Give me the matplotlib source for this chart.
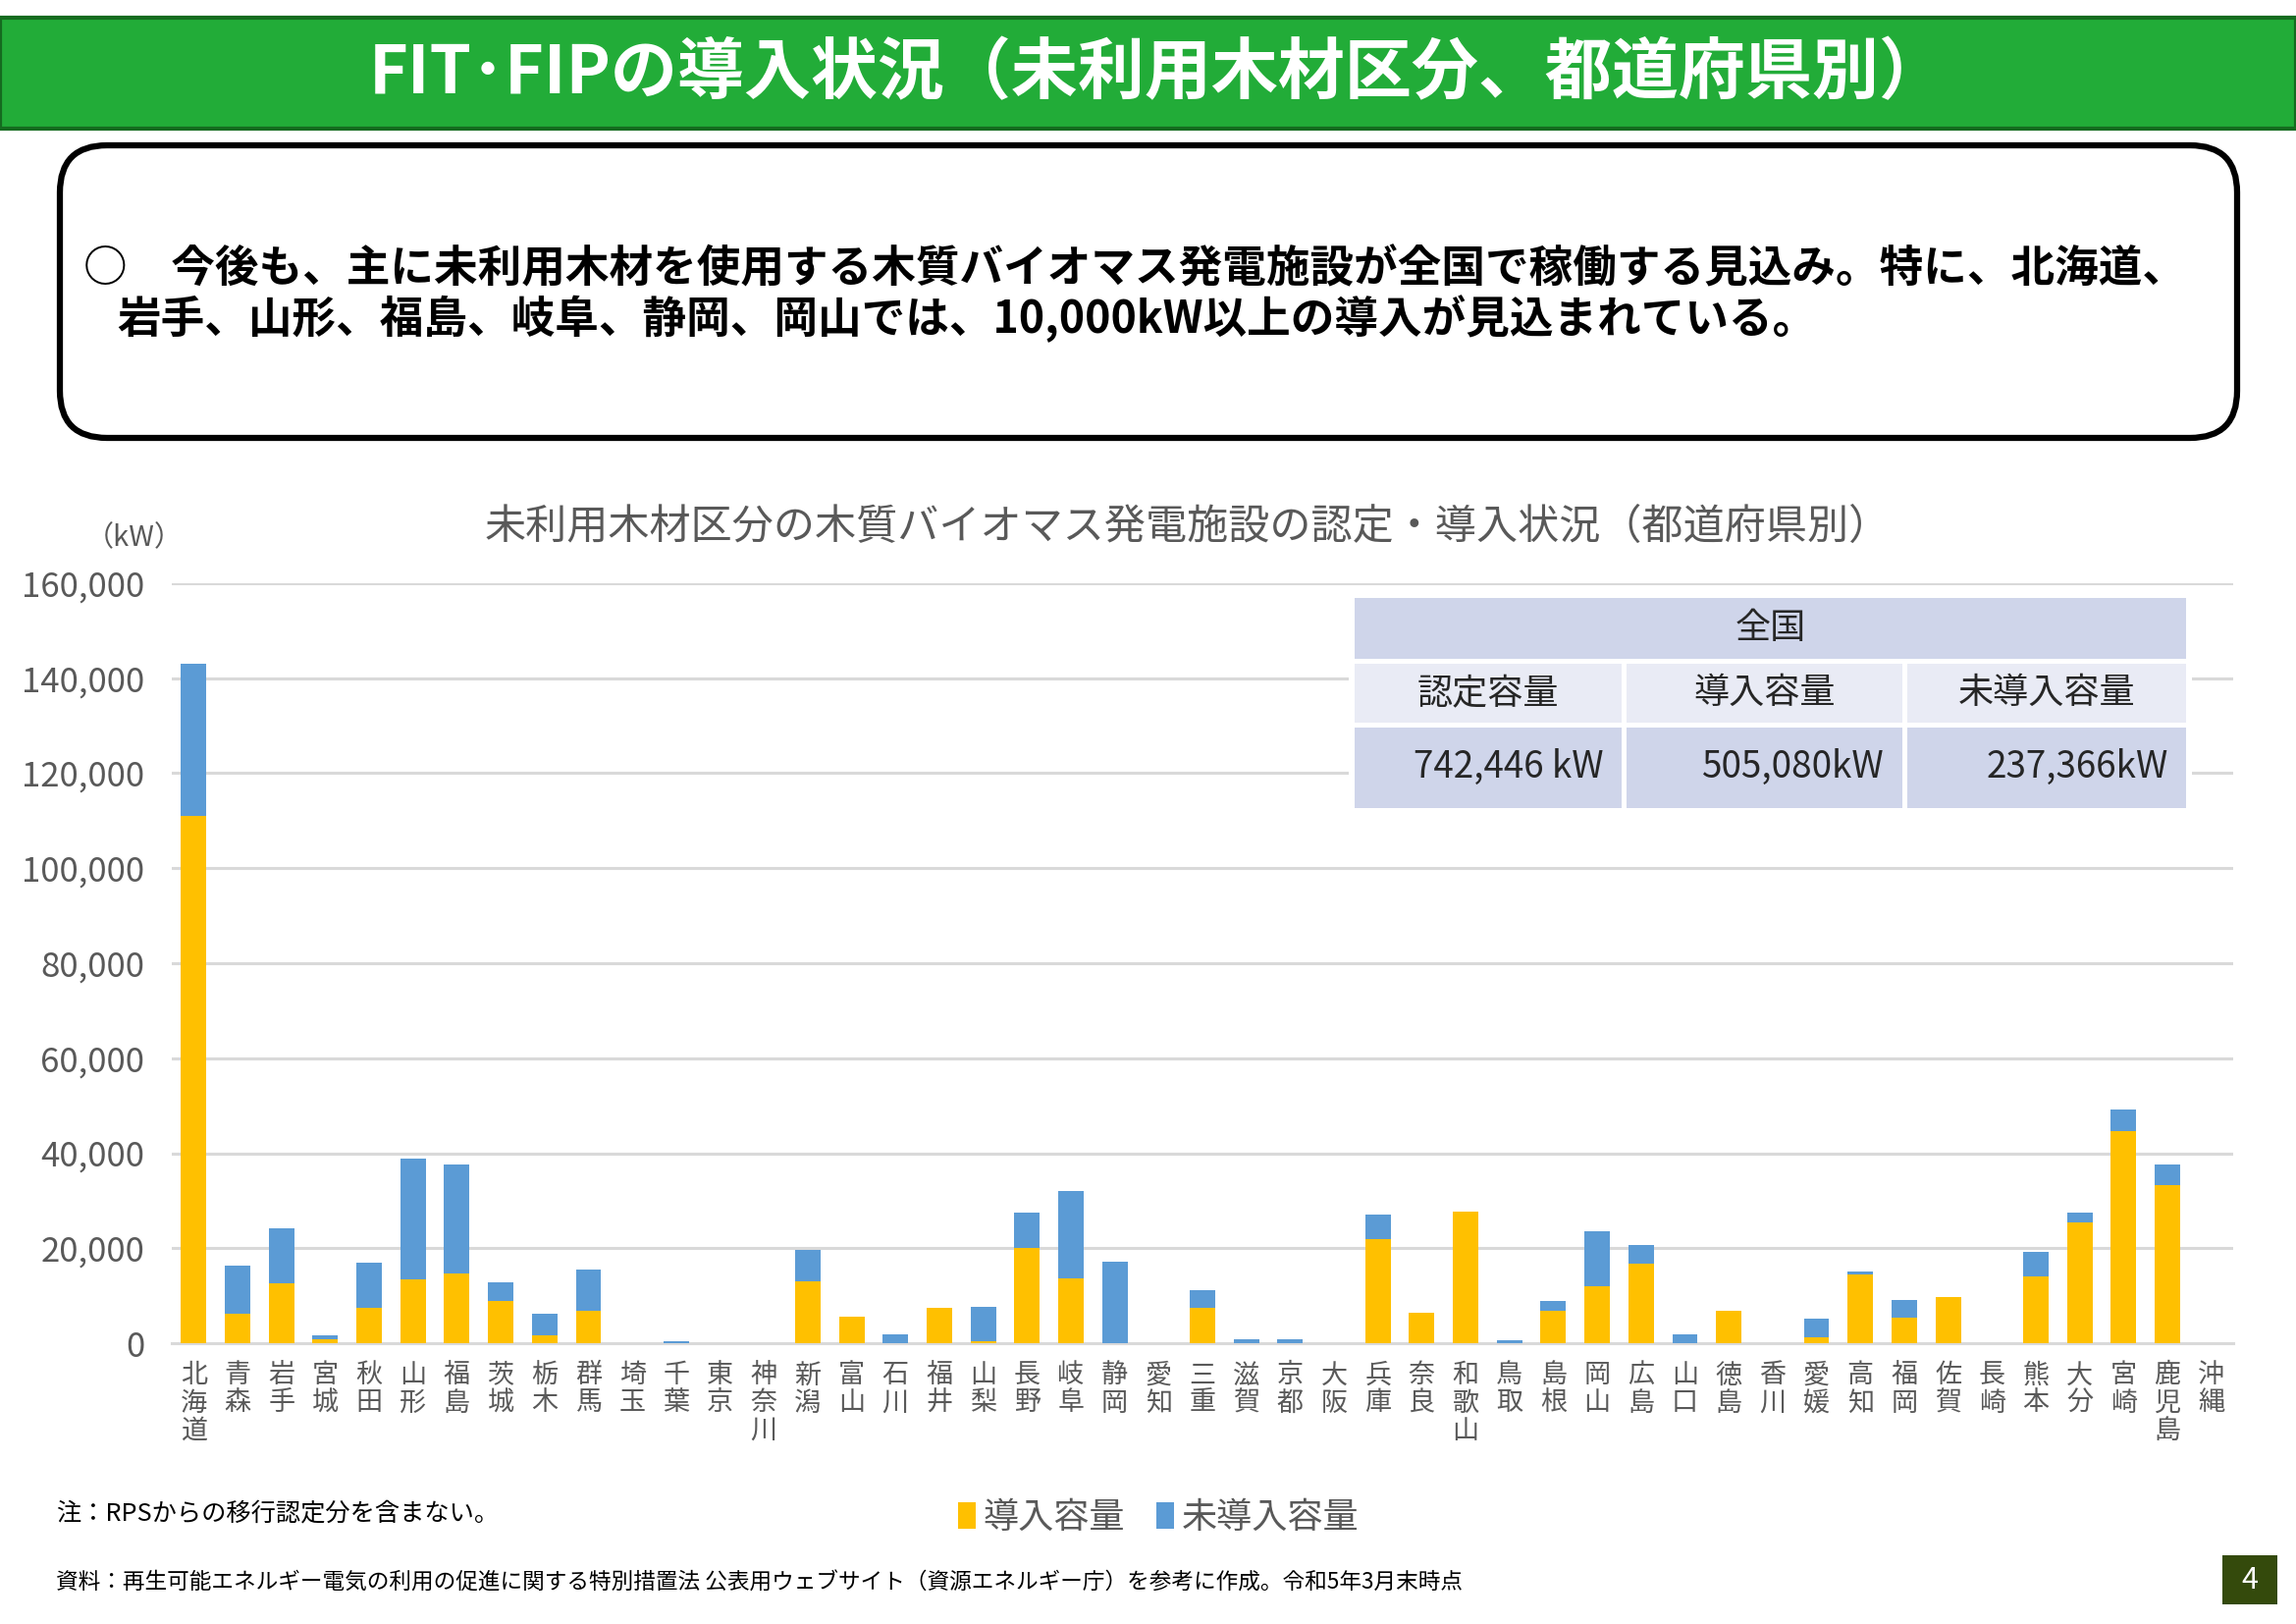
import matplotlib
matplotlib.use("Agg")
import matplotlib.pyplot as plt
from matplotlib.patches import FancyBboxPatch, Rectangle
from matplotlib.ticker import FuncFormatter
import numpy as np

plt.rcParams['font.family'] = ['Noto Sans CJK JP', 'DejaVu Sans']

# ---------------- data ----------------
prefectures = ['北海道', '青森', '岩手', '宮城', '秋田', '山形', '福島', '茨城', '栃木', '群馬',
               '埼玉', '千葉', '東京', '神奈川', '新潟', '富山', '石川', '福井', '山梨', '長野',
               '岐阜', '静岡', '愛知', '三重', '滋賀', '京都', '大阪', '兵庫', '奈良', '和歌山',
               '鳥取', '島根', '岡山', '広島', '山口', '徳島', '香川', '愛媛', '高知', '福岡',
               '佐賀', '長崎', '熊本', '大分', '宮崎', '鹿児島', '沖縄']

installed = [111100, 6300, 12700, 800, 7400, 13500, 14700, 8800, 1700, 6900,
             0, 0, 0, 0, 13100, 5600, 0, 7400, 500, 20100,
             13700, 0, 0, 7400, 0, 0, 0, 22000, 6400, 27800,
             0, 6800, 12000, 16800, 0, 6800, 0, 1300, 14500, 5300,
             9800, 0, 14100, 25400, 44600, 33300, 0]

not_installed = [32000, 10100, 11400, 900, 9500, 25400, 23000, 4100, 4400, 8600,
                 0, 400, 0, 0, 6500, 0, 1800, 0, 7100, 7300,
                 18300, 17200, 0, 3800, 800, 800, 0, 5000, 0, 0,
                 600, 2100, 11500, 3800, 1800, 0, 0, 3800, 600, 3800,
                 0, 0, 5200, 2000, 4700, 4300, 0]

series_names = ['導入容量', '未導入容量']
yticks = [0, 20000, 40000, 60000, 80000, 100000, 120000, 140000, 160000]

table_header = '全国'
table_cols = ['認定容量', '導入容量', '未導入容量']
table_vals = ['742,446 kW', '505,080kW', '237,366kW']

title = 'FIT･FIPの導入状況（未利用木材区分、都道府県別）'
body_line1 = '○　今後も、主に未利用木材を使用する木質バイオマス発電施設が全国で稼働する見込み。特に、北海道、'
body_line2 = '岩手、山形、福島、岐阜、静岡、岡山では、10,000kW以上の導入が見込まれている。'
chart_title = '未利用木材区分の木質バイオマス発電施設の認定・導入状況（都道府県別）'
unit_label = '（kW）'
note_text = '注：RPSからの移行認定分を含まない。'
source_text = '資料：再生可能エネルギー電気の利用の促進に関する特別措置法 公表用ウェブサイト（資源エネルギー庁）を参考に作成。令和5年3月末時点'
page_no = '4'

# ---------------- figure ----------------
W, H = 2339, 1654
DPI = 100
fig = plt.figure(figsize=(W / DPI, H / DPI), dpi=DPI, facecolor='white')

YELLOW = '#FFC000'
BLUE = '#5B9BD5'
GRID = '#D9D9D9'
TXT = '#595959'

# chart axes (pixel layout: x 175..2275, y 594..1368)
ax = fig.add_axes([175 / W, 1 - 1368 / H, (2275 - 175) / W, (1368 - 594) / H])
x = np.arange(len(prefectures))
b1 = ax.bar(x, installed, width=0.58, color=YELLOW, zorder=3, label=series_names[0])
b2 = ax.bar(x, not_installed, width=0.58, bottom=installed, color=BLUE, zorder=3,
            label=series_names[1])
ax.set_xlim(-0.5, len(prefectures) - 0.5)
ax.set_ylim(0, 160000)
ax.set_yticks(yticks)
ax.yaxis.set_major_formatter(FuncFormatter(lambda v, p: f'{int(v):,}'))
ax.grid(axis='y', color=GRID, linewidth=2.2, zorder=0)
ax.set_axisbelow(True)
for s in ['top', 'right', 'left']:
    ax.spines[s].set_visible(False)
ax.spines['bottom'].set_color(GRID)
ax.spines['bottom'].set_linewidth(2.2)
ax.tick_params(axis='y', length=0, pad=20, labelsize=25, labelcolor=TXT)
ax.tick_params(axis='x', length=0, pad=14, labelcolor=TXT)
ax.set_xticks(x)
ax.set_xticklabels(['\n'.join(p) for p in prefectures], fontsize=19.5,
                   linespacing=1.05, va='top')

# legend
fig.legend(handles=[b1, b2], labels=series_names, loc='center',
           bbox_to_anchor=(1180 / W, 1 - 1546 / H), ncol=2, frameon=False,
           fontsize=26, labelcolor=TXT, handlelength=0.5, handleheight=0.75,
           handletextpad=0.2, columnspacing=0.9)

# overlay axes in pixel coordinates
ov = fig.add_axes([0, 0, 1, 1], zorder=5)
ov.set_xlim(0, W)
ov.set_ylim(H, 0)
ov.axis('off')
ov.patch.set_alpha(0)

# header bar
ov.add_patch(Rectangle((0, 18), W, 113, facecolor='#22AC38', edgecolor='#156B1F', linewidth=3))
ov.text(W / 2 + 10, 76, title, color='white', fontsize=49, fontweight='bold',
        ha='center', va='center')

# rounded text box
ov.add_patch(FancyBboxPatch((61, 148), 2218, 298,
                            boxstyle='round,pad=0,rounding_size=48',
                            facecolor='white', edgecolor='black', linewidth=4.5))
ov.text(85, 274, body_line1, fontsize=32.1, fontweight='bold', color='black',
        ha='left', va='center')
ov.text(119, 325, body_line2, fontsize=32.1, fontweight='bold', color='black',
        ha='left', va='center')

# chart title and unit
ov.text(1210, 537, chart_title, fontsize=30.3, color=TXT, ha='center', va='center')
ov.text(137, 548, unit_label, fontsize=21, color=TXT, ha='center', va='center')

# summary table
tx0, tx1 = 1380, 2227
ov.add_patch(Rectangle((tx0 - 6, 605), tx1 - tx0 + 12, 224, facecolor='white',
                       edgecolor='none'))
ov.add_patch(Rectangle((tx0, 609), tx1 - tx0, 62, facecolor='#CFD5EA', edgecolor='none'))
ov.text((tx0 + tx1) / 2, 640, table_header, fontsize=26, color='#262626',
        ha='center', va='center')
col_edges = [(1380, 1652), (1657, 1938), (1943, 2227)]
for (c0, c1), head, val in zip(col_edges, table_cols, table_vals):
    ov.add_patch(Rectangle((c0, 676), c1 - c0, 60, facecolor='#E9EBF5', edgecolor='none'))
    ov.text((c0 + c1) / 2, 706, head, fontsize=26, color='#262626',
            ha='center', va='center')
    ov.add_patch(Rectangle((c0, 741), c1 - c0, 82, facecolor='#CFD5EA', edgecolor='none'))
    ov.text(c1 - 18, 781, val, fontsize=26.5, color='#262626', ha='right', va='center')

# notes
ov.text(57, 1542, note_text, fontsize=18.2, color='black', ha='left', va='center')
ov.text(57, 1612, source_text, fontsize=16.3, color='black', ha='left', va='center')

# page number
ov.add_patch(Rectangle((2264, 1584), 56, 50, facecolor='#344A0C', edgecolor='none'))
ov.text(2292, 1609, page_no, fontsize=22, color='white', ha='center', va='center')

fig.savefig('out.png', dpi=DPI, facecolor='white')
